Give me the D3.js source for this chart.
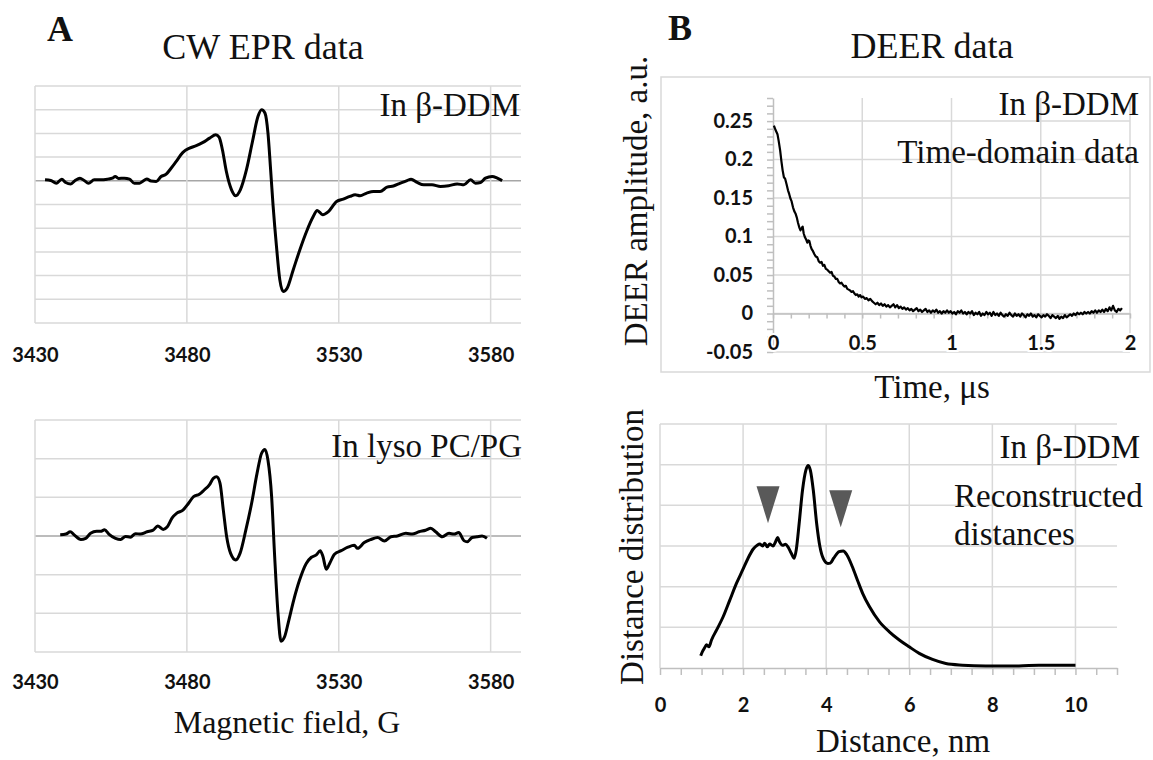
<!DOCTYPE html>
<html>
<head>
<meta charset="utf-8">
<script src="https://cdn.jsdelivr.net/npm/d3@7"></script>
<style>
  body { margin: 0; background: #fff; }
</style>
</head>
<body>
<div id="chart-area"></div>
<script>
// ---- data ----
var fieldTicks = [3430, 3480, 3530, 3580];
var timeTicks = [0, 0.5, 1, 1.5, 2];
var ampTicks = [-0.05, 0, 0.05, 0.1, 0.15, 0.2, 0.25];
var distTicks = [0, 2, 4, 6, 8, 10];

// CW EPR, in beta-DDM  [field G, amplitude in grid units]
var cwDdm = [[3433.3,0.04],[3435.2,0.01],[3437.0,-0.10],[3438.8,0.07],[3440.1,-0.07],[3441.8,-0.13],[3443.2,0.01],
  [3444.8,0.11],[3446.2,0.01],[3447.6,-0.10],[3449.5,0.04],[3451.7,0.04],[3453.9,0.07],[3455.5,0.11],[3456.4,0.18],
  [3457.5,0.10],[3459.4,0.11],[3461.1,0.07],[3462.7,-0.10],[3464.4,-0.10],[3465.4,-0.03],[3466.8,0.08],[3468.2,-0.01],
  [3469.9,-0.03],[3471.5,0.18],[3473.2,0.28],[3474.8,0.53],[3476.5,0.82],[3478.7,1.20],[3480.9,1.38],[3483.1,1.48],
  [3485.3,1.62],[3487.5,1.80],[3489.5,1.94],[3490.6,1.84],[3491.7,1.31],[3493.0,0.39],[3494.7,-0.38],[3496.1,-0.63],
  [3497.6,-0.38],[3499.6,0.46],[3501.6,1.66],[3503.4,2.71],[3504.6,3.00],[3505.7,2.86],[3506.7,2.01],[3507.5,0.60],
  [3508.4,-1.08],[3509.5,-2.77],[3510.6,-4.18],[3511.7,-4.67],[3513.0,-4.53],[3515.0,-3.76],[3517.2,-2.91],
  [3519.4,-2.14],[3521.6,-1.51],[3522.9,-1.25],[3524.7,-1.43],[3526.6,-1.30],[3529.3,-0.87],[3531.5,-0.77],
  [3533.7,-0.66],[3535.4,-0.59],[3537.0,-0.63],[3539.2,-0.52],[3541.4,-0.45],[3543.6,-0.45],[3545.9,-0.27],
  [3548.0,-0.22],[3550.3,-0.10],[3552.5,0.01],[3553.8,0.07],[3555.8,-0.07],[3558.0,-0.17],[3560.7,-0.17],
  [3563.5,-0.24],[3566.2,-0.21],[3569.0,-0.13],[3571.2,-0.17],[3573.4,0.04],[3575.0,-0.10],[3576.7,-0.07],
  [3578.3,0.11],[3580.5,0.18],[3582.2,0.11],[3583.8,0.01]];

// CW EPR, in lyso PC/PG
var cwLyso = [[3438.3,0.03],[3440.2,0.05],[3441.6,0.11],[3442.9,0.03],[3445.1,-0.09],[3446.7,-0.06],[3448.3,0.07],
  [3450.3,0.12],[3451.6,0.12],[3452.9,0.16],[3454.3,0.05],[3456.5,-0.06],[3458.2,-0.09],[3459.8,-0.01],[3461.4,-0.03],
  [3463.1,0.06],[3464.7,0.05],[3466.9,0.11],[3468.9,0.15],[3470.4,0.26],[3472.2,0.17],[3473.5,0.23],[3475.1,0.46],
  [3476.7,0.59],[3478.7,0.67],[3480.5,0.84],[3482.2,1.02],[3484.1,1.08],[3485.7,1.19],[3487.4,1.32],[3488.7,1.49],
  [3489.8,1.53],[3490.9,1.37],[3492.0,0.67],[3493.1,-0.02],[3494.4,-0.45],[3496.1,-0.62],[3497.5,-0.45],[3499.4,0.15],
  [3501.3,0.84],[3503.1,1.62],[3504.6,2.14],[3505.7,2.24],[3506.7,1.96],[3507.9,1.02],[3508.9,-0.53],[3510.0,-2.00],
  [3511.0,-2.72],[3512.2,-2.60],[3513.5,-2.20],[3515.2,-1.65],[3517.1,-1.14],[3519.3,-0.71],[3521.0,-0.55],
  [3522.6,-0.49],[3523.9,-0.38],[3524.8,-0.53],[3525.9,-0.86],[3527.0,-0.71],[3528.6,-0.47],[3530.8,-0.38],
  [3533.0,-0.29],[3535.1,-0.24],[3536.2,-0.32],[3538.4,-0.17],[3540.6,-0.09],[3542.8,-0.04],[3545.0,-0.13],
  [3547.2,-0.02],[3549.3,0.00],[3552.1,0.07],[3554.2,0.05],[3556.4,0.11],[3558.6,0.15],[3560.3,0.20],[3561.9,0.11],
  [3564.1,-0.02],[3566.3,0.07],[3567.9,0.05],[3569.5,0.09],[3571.2,-0.12],[3572.3,-0.15],[3573.9,-0.04],
  [3575.5,-0.02],[3577.2,0.00],[3578.8,-0.06]];

// DEER time-domain trace  [time us, amplitude]
var deerTrace = [[0.005,0.244],[0.015,0.238],[0.025,0.233],[0.032,0.224],[0.040,0.212],[0.047,0.198],[0.054,0.186],
  [0.061,0.177],[0.068,0.175],[0.076,0.168],[0.084,0.160],[0.091,0.155],[0.098,0.149],[0.104,0.146],[0.112,0.138],
  [0.119,0.133],[0.126,0.130],[0.133,0.125],[0.140,0.118],[0.147,0.112],[0.154,0.108],[0.160,0.111],[0.166,0.113],
  [0.172,0.104],[0.179,0.099],[0.186,0.096],[0.192,0.092],[0.198,0.095],[0.204,0.094],[0.210,0.088],[0.216,0.084],
  [0.224,0.081],[0.232,0.077],[0.240,0.074],[0.248,0.073],[0.256,0.068],[0.264,0.066],[0.272,0.067],[0.280,0.062],
  [0.288,0.063],[0.296,0.058],[0.304,0.057],[0.312,0.055],[0.320,0.053],[0.328,0.054],[0.336,0.049],[0.344,0.048],
  [0.352,0.045],[0.360,0.045],[0.368,0.041],[0.376,0.039],[0.384,0.040],[0.392,0.037],[0.400,0.035],[0.408,0.036],
  [0.416,0.032],[0.424,0.031],[0.432,0.030],[0.440,0.028],[0.448,0.029],[0.456,0.026],[0.464,0.024],[0.472,0.025],
  [0.480,0.022],[0.488,0.024],[0.496,0.021],[0.505,0.022],[0.515,0.019],[0.525,0.020],[0.535,0.017],[0.545,0.019],
  [0.555,0.016],[0.565,0.014],[0.575,0.012],[0.585,0.014],[0.595,0.011],[0.605,0.013],[0.615,0.010],[0.625,0.012],
  [0.635,0.009],[0.645,0.011],[0.655,0.008],[0.665,0.010],[0.675,0.012],[0.685,0.008],[0.695,0.011],[0.705,0.007],
  [0.715,0.009],[0.725,0.006],[0.735,0.008],[0.745,0.005],[0.755,0.007],[0.765,0.004],[0.775,0.006],[0.785,0.003],
  [0.795,0.005],[0.805,0.007],[0.815,0.003],[0.825,0.005],[0.835,0.002],[0.845,0.004],[0.855,0.006],[0.865,0.002],
  [0.875,0.004],[0.885,0.001],[0.895,0.004],[0.905,0.002],[0.915,0.005],[0.925,0.001],[0.935,0.003],[0.945,0.000],
  [0.955,0.003],[0.965,0.001],[0.975,0.004],[0.985,0.001],[0.995,0.003],[1.005,0.000],[1.015,0.002],[1.025,-0.001],
  [1.035,0.003],[1.045,0.001],[1.055,0.004],[1.065,0.000],[1.075,0.002],[1.085,-0.001],[1.095,0.002],[1.105,0.000],
  [1.115,0.003],[1.125,-0.002],[1.135,0.001],[1.145,-0.001],[1.155,0.002],[1.165,-0.003],[1.175,0.000],[1.185,-0.002],
  [1.195,0.002],[1.205,-0.001],[1.215,0.001],[1.225,-0.003],[1.235,0.002],[1.245,-0.002],[1.255,0.000],[1.265,-0.003],
  [1.275,0.001],[1.285,-0.002],[1.295,-0.004],[1.305,-0.001],[1.315,-0.003],[1.325,0.001],[1.335,-0.002],[1.345,-0.004],
  [1.355,0.000],[1.365,-0.003],[1.375,-0.001],[1.385,-0.004],[1.395,0.000],[1.405,-0.002],[1.415,-0.005],[1.425,-0.001],
  [1.435,-0.003],[1.445,0.000],[1.455,-0.004],[1.465,-0.002],[1.475,-0.005],[1.485,-0.001],[1.495,-0.003],[1.505,-0.005],
  [1.515,-0.002],[1.525,-0.004],[1.535,-0.001],[1.545,-0.003],[1.555,-0.006],[1.565,-0.002],[1.575,-0.004],[1.585,-0.006],
  [1.595,-0.003],[1.605,-0.007],[1.615,-0.004],[1.625,-0.006],[1.635,-0.002],[1.645,-0.005],[1.655,-0.003],[1.665,-0.001],
  [1.675,-0.003],[1.685,0.000],[1.695,-0.002],[1.705,0.001],[1.715,-0.001],[1.725,0.001],[1.735,-0.001],[1.745,0.002],
  [1.755,0.000],[1.765,0.002],[1.775,0.000],[1.785,0.003],[1.795,0.001],[1.805,0.004],[1.815,0.001],[1.825,0.004],
  [1.835,0.002],[1.845,0.005],[1.855,0.002],[1.865,0.006],[1.875,0.003],[1.885,0.008],[1.895,0.004],[1.905,0.010],
  [1.915,0.004],[1.925,0.002],[1.935,0.006],[1.945,0.004],[1.955,0.007]];

// Reconstructed distance distribution  [nm, grid units]
var distData = [[0.98,0.30],[1.03,0.42],[1.07,0.49],[1.12,0.57],[1.18,0.52],[1.24,0.69],[1.36,0.93],[1.52,1.26],
  [1.68,1.67],[1.84,2.08],[1.99,2.41],[2.12,2.70],[2.24,2.92],[2.34,3.02],[2.40,3.05],[2.47,3.00],[2.52,3.07],
  [2.58,2.98],[2.64,3.05],[2.72,3.00],[2.78,3.10],[2.83,3.21],[2.88,3.10],[2.95,3.02],[3.02,3.04],[3.08,2.98],
  [3.16,2.82],[3.23,2.70],[3.28,2.91],[3.35,3.56],[3.43,4.37],[3.51,4.86],[3.57,4.98],[3.62,4.86],[3.69,4.37],
  [3.77,3.56],[3.85,2.98],[3.94,2.67],[4.04,2.57],[4.10,2.58],[4.18,2.70],[4.31,2.86],[4.41,2.88],[4.50,2.78],
  [4.63,2.49],[4.76,2.14],[4.88,1.83],[5.04,1.51],[5.28,1.14],[5.52,0.89],[5.76,0.69],[6.00,0.52],[6.24,0.36],
  [6.56,0.21],[6.88,0.11],[7.28,0.07],[7.84,0.05],[8.64,0.05],[9.12,0.07],[10.0,0.07]];

// arrow heads marking the shoulders  [nm, grid units of the tip]
var markers = [[2.60, 3.56], [4.35, 3.46]];

var width = 1153;
var height = 760;
var gridColor = "#d9d9d9";
var serifFont = "'Liberation Serif', 'Times New Roman', serif";
var tickFont = "Lato, 'Open Sans', sans-serif";

var svg = d3.select("#chart-area")
    .append("svg")
    .attr("width", width)
    .attr("height", height)
    .style("background", "#fff");

function addText(txt, x, y, size, anchor, extra) {
    var t = svg.append("text")
        .attr("font-family", serifFont)
        .attr("fill", "#111")
        .attr("x", x)
        .attr("y", y)
        .attr("font-size", size)
        .attr("text-anchor", anchor || "start")
        .text(txt);
    if (extra) extra(t);
    return t;
}

function styleTickText(g) {
    g.select(".domain").remove();
    g.attr("font-family", tickFont).attr("font-size", 20);
    g.selectAll("text")
        .attr("font-family", tickFont)
        .attr("font-weight", 700)
        .attr("font-size", 20)
        .attr("fill", "#111");
}

var numFmt = function(d) { return String(+d.toFixed(2)); };

// ---------- Panel A : CW EPR ----------
function drawCW(data, top, bottom, yMin, yMax, labelY) {
    var x = d3.scaleLinear().domain([3430, 3590]).range([35, 521]);
    var y = d3.scaleLinear().domain([yMin, yMax]).range([bottom, top]);

    var grid = svg.append("g");
    grid.selectAll("line.h")
        .data(d3.range(yMin, yMax + 1))
        .enter().append("line")
        .attr("x1", 35).attr("x2", 521)
        .attr("y1", function(d) { return y(d); })
        .attr("y2", function(d) { return y(d); })
        .attr("stroke", function(d) { return d === 0 ? "#a6a6a6" : gridColor; })
        .attr("stroke-width", 1.5);
    grid.selectAll("line.v")
        .data(fieldTicks)
        .enter().append("line")
        .attr("x1", function(d) { return x(d); })
        .attr("x2", function(d) { return x(d); })
        .attr("y1", top).attr("y2", bottom)
        .attr("stroke", gridColor)
        .attr("stroke-width", 1.5);

    var axis = svg.append("g")
        .attr("transform", "translate(0," + labelY + ")")
        .call(d3.axisBottom(x).tickValues(fieldTicks).tickSize(0).tickPadding(0).tickFormat(d3.format("d")));
    styleTickText(axis);
    axis.selectAll("text").attr("dy", "0.35em").attr("y", 0);

    svg.append("path")
        .datum(data)
        .attr("fill", "none")
        .attr("stroke", "#000")
        .attr("stroke-width", 3)
        .attr("stroke-linejoin", "round")
        .attr("d", d3.line()
            .x(function(d) { return x(d[0]); })
            .y(function(d) { return y(d[1]); })
            .curve(d3.curveMonotoneX));
}

drawCW(cwDdm, 86, 323, -6, 4, 355);
drawCW(cwLyso, 420, 652, -3, 3, 682);

addText("A", 47, 41, 36, "start", function(t) { t.attr("font-weight", "bold"); });
addText("CW EPR data", 263, 59, 36, "middle");
addText("In \u03b2-DDM", 520, 116, 33, "end");
addText("In lyso PC/PG", 522, 457, 33, "end");
addText("Magnetic field, G", 287, 733, 32, "middle");

// ---------- Panel B top : DEER time domain ----------
var tx = d3.scaleLinear().domain([0, 2]).range([773, 1130]);
var ty = d3.scaleLinear().domain([-0.05, 0.28]).range([352, 98]);

svg.append("rect")
    .attr("x", 661).attr("y", 77)
    .attr("width", 489).attr("height", 295)
    .attr("fill", "none")
    .attr("stroke", gridColor)
    .attr("stroke-width", 1.5);

svg.append("g").selectAll("line")
    .data(ampTicks)
    .enter().append("line")
    .attr("x1", tx(0)).attr("x2", tx(2))
    .attr("y1", function(d) { return ty(d); })
    .attr("y2", function(d) { return ty(d); })
    .attr("stroke", gridColor).attr("stroke-width", 1.5);

svg.append("g").selectAll("line")
    .data(timeTicks.slice(1))
    .enter().append("line")
    .attr("x1", function(d) { return tx(d); })
    .attr("x2", function(d) { return tx(d); })
    .attr("y1", ty(0.28)).attr("y2", ty(-0.05))
    .attr("stroke", gridColor).attr("stroke-width", 1.5);

// y axis with minor ticks every 0.01
var yAx = svg.append("g")
    .attr("transform", "translate(" + tx(0) + ",0)")
    .call(d3.axisLeft(ty).tickValues(d3.range(-5, 29).map(function(i) { return i / 100; }))
        .tickSize(6).tickSizeOuter(0).tickFormat(""));
yAx.selectAll("line, path").attr("stroke", "#bfbfbf").attr("stroke-width", 1.5);

// x axis through zero with minor ticks every 0.1
var xAx = svg.append("g")
    .attr("transform", "translate(0," + ty(0) + ")")
    .call(d3.axisBottom(tx).tickValues(d3.range(0, 21).map(function(i) { return i / 10; }))
        .tickSize(5).tickSizeOuter(0).tickFormat(""));
xAx.selectAll("line, path").attr("stroke", "#bfbfbf").attr("stroke-width", 1.5);

var yLab = svg.append("g")
    .attr("transform", "translate(753,0)")
    .call(d3.axisLeft(ty).tickValues(ampTicks).tickSize(0).tickPadding(0).tickFormat(numFmt));
styleTickText(yLab);

var xLab = svg.append("g")
    .attr("transform", "translate(0,343)")
    .call(d3.axisBottom(tx).tickValues(timeTicks).tickSize(0).tickPadding(0).tickFormat(numFmt));
styleTickText(xLab);
xLab.selectAll("text").attr("y", 0).attr("dy", "0.35em")
    .attr("stroke", "#fff").attr("stroke-width", 4).attr("paint-order", "stroke");

svg.append("path")
    .datum(deerTrace)
    .attr("fill", "none")
    .attr("stroke", "#000")
    .attr("stroke-width", 2.2)
    .attr("stroke-linejoin", "round")
    .attr("d", d3.line()
        .x(function(d) { return tx(d[0]); })
        .y(function(d) { return ty(d[1]); }));

addText("B", 668, 40, 36, "start", function(t) { t.attr("font-weight", "bold"); });
addText("DEER data", 932, 58, 36, "middle");
addText("In \u03b2-DDM", 1139, 115, 33, "end");
addText("Time-domain data", 1139, 163, 33, "end");
addText("Time, \u03bcs", 932, 398, 33, "middle");
addText("DEER amplitude, a.u.", 0, 0, 33, "middle", function(t) {
    t.attr("transform", "translate(647,201) rotate(-90)");
});

// ---------- Panel B bottom : distance distribution ----------
var dx = d3.scaleLinear().domain([0, 11]).range([660, 1117]);
var dy = d3.scaleLinear().domain([0, 6]).range([668, 424]);

svg.append("g").selectAll("line")
    .data(d3.range(1, 7))
    .enter().append("line")
    .attr("x1", dx(0)).attr("x2", dx(11))
    .attr("y1", function(d) { return dy(d); })
    .attr("y2", function(d) { return dy(d); })
    .attr("stroke", gridColor).attr("stroke-width", 1.5);

svg.append("g").selectAll("line")
    .data(distTicks)
    .enter().append("line")
    .attr("x1", function(d) { return dx(d); })
    .attr("x2", function(d) { return dx(d); })
    .attr("y1", dy(6)).attr("y2", dy(0))
    .attr("stroke", gridColor).attr("stroke-width", 1.5);

var dAx = svg.append("g")
    .attr("transform", "translate(0," + dy(0) + ")")
    .call(d3.axisBottom(dx).tickValues(d3.range(0, 23).map(function(i) { return i / 2; }))
        .tickSize(7).tickSizeOuter(0).tickFormat(""));
dAx.selectAll("line, path").attr("stroke", "#bfbfbf").attr("stroke-width", 1.5);

var dLab = svg.append("g")
    .attr("transform", "translate(0,705)")
    .call(d3.axisBottom(dx).tickValues(distTicks).tickSize(0).tickPadding(0).tickFormat(numFmt));
styleTickText(dLab);
dLab.selectAll("text").attr("y", 0).attr("dy", "0.35em");

svg.append("path")
    .datum(distData)
    .attr("fill", "none")
    .attr("stroke", "#000")
    .attr("stroke-width", 3)
    .attr("stroke-linejoin", "round")
    .attr("d", d3.line()
        .x(function(d) { return dx(d[0]); })
        .y(function(d) { return dy(d[1]); })
        .curve(d3.curveMonotoneX));

svg.append("g").selectAll("path")
    .data(markers)
    .enter().append("path")
    .attr("transform", function(d) { return "translate(" + dx(d[0]) + "," + dy(d[1]) + ")"; })
    .attr("d", "M0,0 L-11.5,-37 L11.5,-37 Z")
    .attr("fill", "#595959");

addText("In \u03b2-DDM", 1140, 458, 33, "end");
addText("Reconstructed", 954, 507, 33, "start");
addText("distances", 954, 545, 33, "start");
addText("Distance, nm", 903, 752, 33, "middle");
addText("Distance distribution", 0, 0, 33, "middle", function(t) {
    t.attr("transform", "translate(643,547) rotate(-90)");
});
</script>
</body>
</html>
